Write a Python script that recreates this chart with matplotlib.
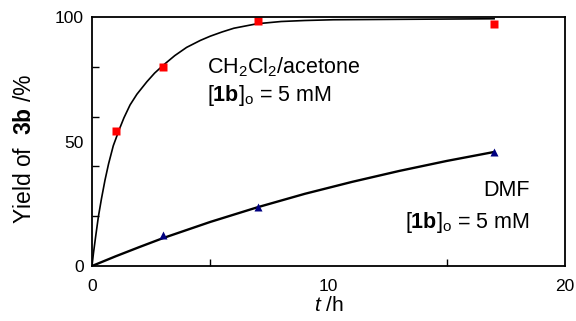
import matplotlib
matplotlib.use("Agg")
import matplotlib.pyplot as plt

plt.rcParams['font.family'] = ['Liberation Sans', 'DejaVu Sans']
plt.rcParams['mathtext.fontset'] = 'custom'
plt.rcParams['mathtext.rm'] = 'Liberation Sans'
plt.rcParams['mathtext.it'] = 'Liberation Sans:italic'
plt.rcParams['mathtext.bf'] = 'Liberation Sans:bold'

# measured points
t_acetone = [1, 3, 7, 17]
y_acetone = [54.2, 80.0, 98.4, 97.2]
t_dmf = [3, 7, 17]
y_dmf = [12.4, 23.7, 45.8]

# fitted curves
t_fit_acetone = [0, 0.06, 0.15, 0.27, 0.4, 0.55, 0.7, 0.9, 1.16, 1.35, 1.61,
                 1.9, 2.32, 2.65, 3.02, 3.5, 4.0, 4.58, 5.0, 5.5, 6.0, 6.98,
                 8.0, 9.0, 10.2, 13.5, 17]
y_fit_acetone = [0, 5.0, 11.5, 19.8, 27.0, 34.5, 41.0, 48.3, 55.0, 59.5, 64.7,
                 69.0, 74.0, 77.5, 80.7, 84.5, 87.8, 90.6, 92.3, 94.0, 95.5,
                 97.3, 98.2, 98.6, 98.9, 99.1, 99.3]
t_fit_dmf = [0, 1, 2, 3, 5, 7, 9, 11, 13, 15, 17]
y_fit_dmf = [0, 3.9, 7.6, 11.2, 17.7, 23.6, 29.0, 33.8, 38.2, 42.2, 45.8]

fig = plt.figure(figsize=(5.76, 3.21), dpi=100)
ax = fig.add_axes([0.1597, 0.1713, 0.8213, 0.7757])

ax.plot(t_fit_acetone, y_fit_acetone, color='black', lw=1.2)
ax.plot(t_fit_dmf, y_fit_dmf, color='black', lw=1.7)
ax.plot(t_acetone, y_acetone, 's', color='#ff0000', ms=5.2, mec='none')
ax.plot(t_dmf, y_dmf, '^', color='#000080', ms=5.5, mec='none')

ax.set_xlim(0, 20)
ax.set_ylim(0, 100)
ax.set_xticks([0, 10, 20])
ax.set_xticks([5, 15], minor=True)
ax.set_yticks([0, 50, 100])
ax.set_yticks([20, 40, 60, 80], minor=True)
ax.tick_params(axis='both', which='both', direction='in', labelsize=12.5)
ax.tick_params(axis='both', which='major', length=0, pad=6)
ax.tick_params(axis='both', which='minor', length=5, width=1)
ax.tick_params(axis='x', which='major', pad=9)
for s in ax.spines.values():
    s.set_linewidth(1.3)

ax.set_xlabel(r'$\it{t}$ /h', fontsize=15, labelpad=2)
ax.set_ylabel(r'Yield of  $\mathbf{3b}$ /%', fontsize=16.5)
ax.yaxis.set_label_coords(-0.118, 0.47)

ax.text(0.2441, 0.80, r'CH$_2$Cl$_2$/acetone', fontsize=15.5, va='center',
        ha='left', transform=ax.transAxes)
ax.text(0.2441, 0.685, r'[$\mathbf{1b}$]$_\mathrm{o}$ = 5 mM', fontsize=15.5,
        va='center', ha='left', transform=ax.transAxes)
ax.text(0.925, 0.305, 'DMF', fontsize=15.5, va='center', ha='right',
        transform=ax.transAxes)
ax.text(0.925, 0.175, r'[$\mathbf{1b}$]$_\mathrm{o}$ = 5 mM', fontsize=15.5,
        va='center', ha='right', transform=ax.transAxes)

fig.savefig('out.png', dpi=100)
